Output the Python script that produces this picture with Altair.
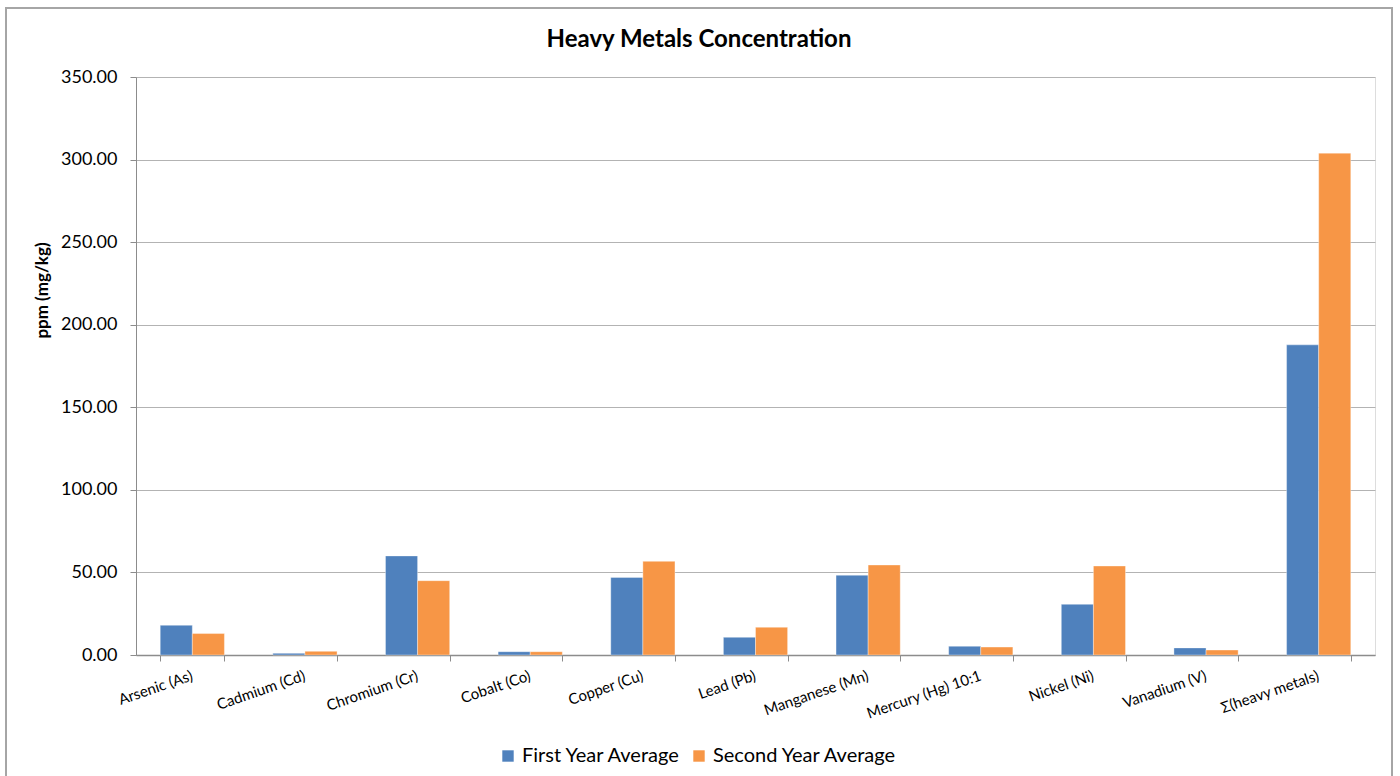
import altair as alt
import pandas as pd

categories = ["Arsenic (As)", "Cadmium (Cd)", "Chromium (Cr)", "Cobalt (Co)", "Copper (Cu)",
              "Lead (Pb)", "Manganese (Mn)", "Mercury (Hg) 10:1", "Nickel (Ni)",
              "Vanadium (V)", "Σ(heavy metals)"]
first_year = [18.0, 1.0, 60.0, 2.0, 47.0, 10.7, 48.3, 5.3, 30.7, 4.3, 187.8]
second_year = [13.0, 2.2, 45.0, 2.0, 56.7, 16.8, 54.5, 4.8, 53.9, 3.0, 303.9]
series = ["First Year Average", "Second Year Average"]
colors = ["#4F81BD", "#F79646"]
title_text = "Heavy Metals Concentration"

rows = []
for c, a, b in zip(categories, first_year, second_year):
    rows.append({"metal": c, "series": series[0], "value": a})
    rows.append({"metal": c, "series": series[1], "value": b})
df = pd.DataFrame(rows)

FONT = "Lato"
W, H = 1239, 578

bars = alt.Chart(df).mark_bar(stroke="white", strokeWidth=0.6, strokeOpacity=0.6).encode(
    x=alt.X("metal:N", sort=categories, title=None,
            scale=alt.Scale(paddingInner=0.43, paddingOuter=0.215),
            axis=alt.Axis(labelAngle=-19, labelAlign="right", labelBaseline="top",
                          labelFontSize=15, labelFont=FONT, labelColor="#000000",
                          labelPadding=7, labelOffset=-3, labelLimit=0,
                          tickBand="extent", tickSize=6, tickColor="#8c8c8c",
                          domainColor="#8c8c8c", domainWidth=1.3, grid=False)),
    xOffset=alt.XOffset("series:N", sort=series),
    y=alt.Y("value:Q", title="ppm (mg/kg)",
            scale=alt.Scale(domain=[0, 350], nice=False),
            axis=alt.Axis(values=[0, 50, 100, 150, 200, 250, 300, 350], format=".2f",
                          labelFontSize=18, labelFont=FONT, labelColor="#000000",
                          labelPadding=13, tickSize=6, tickColor="#8c8c8c",
                          domainColor="#8c8c8c", gridColor="#b3b3b3", gridWidth=1.2,
                          titleFont=FONT, titleFontSize=17, titleFontWeight="bold",
                          titleColor="#000000", titleX=-94, titleY=213,
                          titleAngle=-90, titleAlign="center", titleBaseline="middle")),
    color=alt.Color("series:N", sort=series,
                    scale=alt.Scale(domain=series, range=colors),
                    legend=alt.Legend(title=None, orient="none", legendX=362, legendY=669,
                                      direction="horizontal", symbolType="square",
                                      symbolSize=130, symbolStrokeWidth=0, labelLimit=0,
                                      labelFontSize=20, labelFont=FONT, labelColor="#000000",
                                      columnPadding=8, labelOffset=4)),
)

border = alt.Chart(df).mark_rect(fill=None, stroke="#a6a6a6", strokeWidth=1.2).encode(
    x=alt.value(-130), x2=alt.value(1256), y=alt.value(-69), y2=alt.value(720)
)

title = alt.Chart(pd.DataFrame({"t": [title_text]})).mark_text(
    font=FONT, fontSize=24, fontWeight="bold", color="#000000",
    align="center", baseline="middle"
).encode(text="t:N", x=alt.value(563), y=alt.value(-37))

chart = alt.layer(border, bars, title).properties(
    width=W, height=H,
    autosize=alt.AutoSizeParams(type="none"),
    padding={"left": 136, "top": 77, "right": 25, "bottom": 121},
).configure_view(stroke=None).configure(background="white")

chart.save("out.html", embed_options={"renderer": "svg", "actions": False})
